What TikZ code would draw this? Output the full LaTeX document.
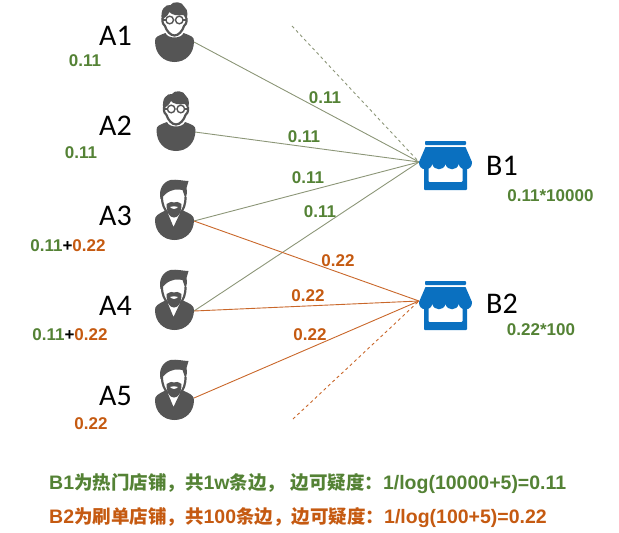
\documentclass[tikz,border=0pt]{standalone}
\usepackage{fontspec}
\setmainfont{Carlito}
\newfontfamily\cjk{Noto Sans CJK SC}
\newfontfamily\lat{Liberation Sans}
\newcommand{\zh}[1]{{\cjk\bfseries\fontsize{18.5}{20}\selectfont #1}}
\definecolor{gtxt}{HTML}{548235}
\definecolor{otxt}{HTML}{C55A11}
\definecolor{gline}{HTML}{8C9678}
\definecolor{oline}{HTML}{C9672A}
\definecolor{icon}{HTML}{555555}
\definecolor{shop}{HTML}{0A70C0}
\tikzset{
 big/.style={font=\fontsize{30}{32}\selectfont,inner sep=0pt,text=black},
 gval/.style={font=\lat\bfseries\fontsize{17}{20}\selectfont,inner sep=0pt,text=gtxt},
 oval/.style={font=\lat\bfseries\fontsize{17}{20}\selectfont,inner sep=0pt,text=otxt},
 gnote/.style={font=\lat\bfseries\fontsize{19.5}{22}\selectfont,inner sep=0pt,text=gtxt,anchor=west},
 onote/.style={font=\lat\bfseries\fontsize{19.5}{22}\selectfont,inner sep=0pt,text=otxt,anchor=west},
 gedge/.style={draw=gline,line width=0.9pt},
 oedge/.style={draw=oline,line width=0.9pt},
 gdash/.style={gedge,dash pattern=on 3pt off 3pt},
 odash/.style={oedge,dash pattern=on 3pt off 3pt},
 pics/geek/.style={code={
  \fill[icon] (-19.5,9) .. controls (-19.5,5) and (-17,4) .. (-9,1) .. controls (-7,7) and (7,7) .. (9,1) .. controls (17,4) and (19.5,5) .. (19.5,9) .. controls (19.5,22) and (11,30) .. (0,30) .. controls (-11,30) and (-19.5,22) .. (-19.5,9) -- cycle;
  \fill[icon] (-12.5,-12) .. controls (-15,-22) and (-9,-28) .. (-4,-27) .. controls (-2,-31) and (8,-31) .. (10,-25) .. controls (14,-22) and (13,-16) .. (12,-12) -- (9,-17) .. controls (3,-16) and (-3,-17) .. (-5,-20) .. controls (-6,-17) and (-8,-16) .. (-9,-15) -- cycle;
  \draw[icon,line width=2.2pt] (-12,-14) .. controls (-12.5,-9) and (-11,-7) .. (-9.5,-6) .. controls (-8,-1) and (-4,3.5) .. (0,3.5) .. controls (4,3.5) and (8,-1) .. (9.5,-6) .. controls (11,-7) and (12.5,-9) .. (12,-14);
  \draw[icon,line width=1.4pt,fill=white] (-4.8,-12) circle (3.8) (4.8,-12) circle (3.8);
  \draw[icon,line width=1.6pt] (-8.6,-12) -- (-12,-12) (8.6,-12) -- (12,-12);
 }},
 pics/beard/.style={code={
  \fill[icon] (-19.5,10) .. controls (-19.5,6) and (-17,4) .. (-8,0) -- (-1,17) -- (7,0) .. controls (17,4) and (19.5,6) .. (19.5,10) .. controls (19.5,22) and (11,30) .. (0,30) .. controls (-11,30) and (-19.5,22) .. (-19.5,10) -- cycle;
  \fill[icon] (-14,-11) .. controls (-16,-20) and (-12,-28) .. (-4,-30) .. controls (2,-31) and (9,-29) .. (14,-29) .. controls (12,-27) and (14,-24) .. (12,-22) .. controls (13,-18) and (12,-14) .. (11,-11) -- (8,-20) .. controls (3,-21) and (-3,-21) .. (-9,-16) -- cycle;
  \draw[icon,line width=2.2pt] (-12.5,-13) .. controls (-12.5,-5) and (-10,-1) .. (-7,3) (11,-13) .. controls (11,-5) and (9,-1) .. (6,3);
  \fill[icon] (-8,-6) .. controls (-4,-8) and (-2,-9) .. (-0.5,-7.5) .. controls (1,-9) and (4,-8) .. (7,-6) .. controls (7,3) and (4,7.5) .. (-0.5,7.5) .. controls (-5,7.5) and (-8,3) .. (-8,-6) -- cycle;
  \fill[white] (-4.5,-3) .. controls (-2,-4) and (1,-4) .. (3.5,-3) .. controls (1,-0.5) and (-2,-0.5) .. (-4.5,-3) -- cycle;
 }},
 pics/store/.style={code={
  \fill[shop,rounded corners=0.8pt] (-20.5,-22) rectangle (20.5,-18);
  \fill[shop] (-20,-16) -- (20,-16) -- (26.5,-1) .. controls (27,8) and (15,9) .. (13.2,1) .. controls (11.5,8) and (1.5,8) .. (0,1) .. controls (-1.5,8) and (-11.5,8) .. (-13.2,1) .. controls (-15,9) and (-27,8) .. (-26.5,-1) -- cycle;
  \fill[shop,rounded corners=0.8pt] (-21.5,5) -- (-17,5) -- (-17,19) -- (17,19) -- (17,5) -- (21.5,5) -- (21.5,27) -- (-21.5,27) -- cycle;
 }}
}
\begin{document}
\begin{tikzpicture}[x=1pt,y=-1pt]
\useasboundingbox (0,0) rectangle (619,533);
\coordinate (p1) at (194,42);
\coordinate (p2) at (195,132);
\coordinate (p3) at (194,221);
\coordinate (p4) at (194,311);
\coordinate (p5) at (194,398);
\coordinate (s1) at (419,162);
\coordinate (s2) at (419,301);
\coordinate (d1) at (292,26);
\coordinate (d2) at (293,419);
\draw[gdash] (d1) -- (s1);
\draw[odash] (d2) -- (s2);
\draw[gedge] (p1) -- (s1);
\draw[gedge] (p2) -- (s1);
\draw[gedge] (p3) -- (s1);
\draw[gedge] (p4) -- (s1);
\draw[oedge] (p3) -- (s2);
\draw[oedge] (p4) -- (s2);
\draw[oedge] (p5) -- (s2);
\pic at (174.5,32) {geek};
\pic at (176,121) {geek};
\pic at (174.5,210) {beard};
\pic at (174.5,300) {beard};
\pic at (174.5,390) {beard};
\pic at (445.5,163) {store};
\pic at (445.5,303) {store};
\node[big] (a1) at (115.5,36) {A1};
\node[big] (a2) at (115.5,126) {A2};
\node[big] (a3) at (115.5,216) {A3};
\node[big] (a4) at (115.5,306) {A4};
\node[big] (a5) at (115.5,396) {A5};
\node[big] (b1) at (502,166) {B1};
\node[big] (b2) at (502,304) {B2};
\node[gval] (v1) at (85,61) {0.11};
\node[gval] (v2) at (81,153) {0.11};
\node[inner sep=0pt] (v3) at (68,246) {\lat\bfseries\fontsize{17}{20}\selectfont\textcolor{gtxt}{0.11}+\textcolor{otxt}{0.22}};
\node[inner sep=0pt] (v4) at (70,335) {\lat\bfseries\fontsize{17}{20}\selectfont\textcolor{gtxt}{0.11}+\textcolor{otxt}{0.22}};
\node[oval] (v5) at (91,424) {0.22};
\node[gval] (e1) at (325,98) {0.11};
\node[gval] (e2) at (304,137) {0.11};
\node[gval] (e3) at (308,178) {0.11};
\node[gval] (e4) at (320,212) {0.11};
\node[oval] (e5) at (338,261) {0.22};
\node[oval] (e6) at (308,296) {0.22};
\node[oval] (e7) at (310,335) {0.22};
\node[gval] (w1) at (550.5,196) {0.11*10000};
\node[gval] (w2) at (541,330) {0.22*100};
\node[gnote] (t1) at (49,483.5) {B1\zh{为热门店铺，共}1w\zh{条边，} \zh{边可疑度：}1/log(10000+5)=0.11};
\node[onote] (t2) at (49,517.5) {B2\zh{为刷单店铺，共}100\zh{条边，边可疑度：}1/log(100+5)=0.22};
\end{tikzpicture}
\end{document}
